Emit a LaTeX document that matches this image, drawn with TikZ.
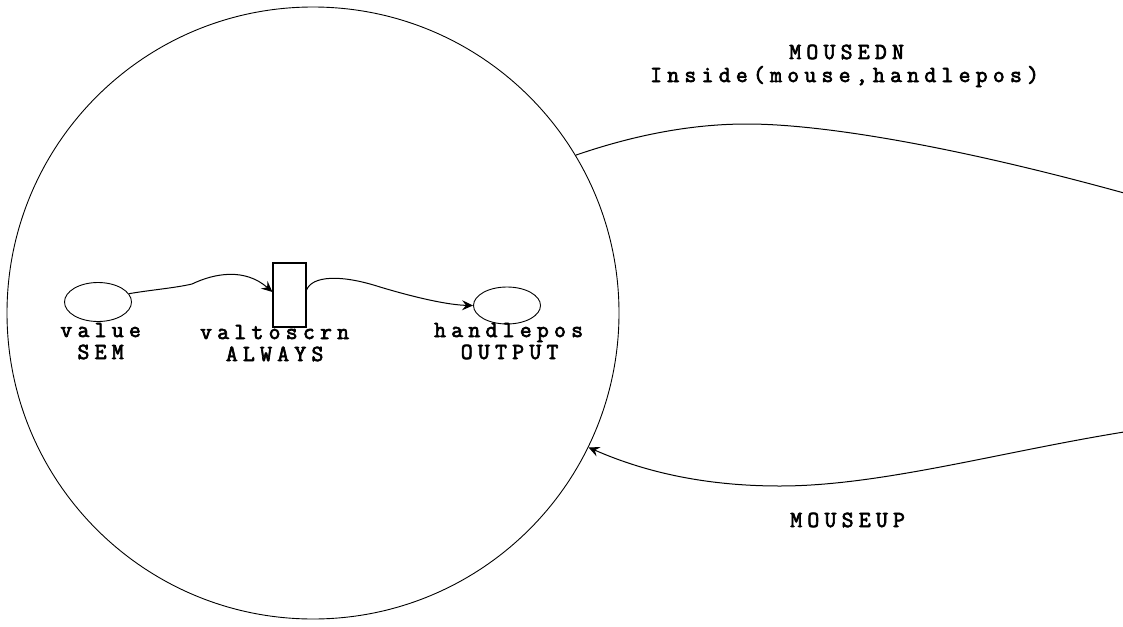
\documentclass[tikz,border=0pt]{standalone}
\usepackage{fontspec}
\newfontfamily\lblfont{Latin Modern Mono}[LetterSpace=23, FakeBold=3]
\usetikzlibrary{arrows.meta,shapes.geometric}
\begin{document}
\begin{tikzpicture}[x=1pt,y=-1pt,
  lbl/.style={font=\fontsize{23}{24}\selectfont\lblfont, inner sep=0, anchor=base, xshift=2.6pt},
  edge/.style={line width=1pt},
  arr/.style={edge,-{Stealth[length=11pt,width=10pt,inset=4pt]}},
  place/.style={draw, ellipse, line width=0.9pt, inner sep=0},
  trans/.style={draw, rectangle, line width=1.1pt, inner sep=0},
]
\useasboundingbox (0,0) rectangle (1123,626);
\node[draw, circle, minimum size=612pt, inner sep=0, line width=0.9pt] (big) at (313,313) {};

\node[place, minimum width=67pt, minimum height=39pt] (pv) at (98,302) {};
\node[trans, minimum width=33pt, minimum height=64pt] (vt) at (289.5,295) {};
\node[place, minimum width=67pt, minimum height=37pt] (hp) at (507,305.5) {};

\node[lbl] (lv1) at (98,337) {value};
\node[lbl] (lv2) at (98,359) {SEM};
\node[lbl] (lt1) at (272,339) {valtoscrn};
\node[lbl] (lt2) at (272,361) {ALWAYS};
\node[lbl] (lh1) at (506,337) {handlepos};
\node[lbl] (lh2) at (507,359) {OUTPUT};
\node[lbl] (ldn1) at (844,59) {MOUSEDN};
\node[lbl] (ldn2) at (842,82) {Inside(mouse,handlepos)};
\node[lbl] (lup) at (845,527) {MOUSEUP};

\draw[arr] (pv.15) .. controls (150,290) and (175,288) .. (192,284)
  .. controls (215,273) and (245,268) .. ([yshift=3pt]vt.west);
\draw[arr] ([yshift=5pt]vt.east) .. controls (312,276) and (340,274) .. (380,287)
  .. controls (420,299) and (450,305) .. (hp.west);

\coordinate (dnend) at (1124,193);
\coordinate (upstart) at (1124,432);
\draw[edge] (big.31) .. controls (620,140) and (680,124) .. (747,124)
  .. controls (820,124) and (950,145) .. (dnend);
\draw[arr] (upstart) .. controls (1000,452) and (880,486) .. (780,486)
  .. controls (700,486) and (640,470) .. (big.-26);
\end{tikzpicture}
\end{document}
